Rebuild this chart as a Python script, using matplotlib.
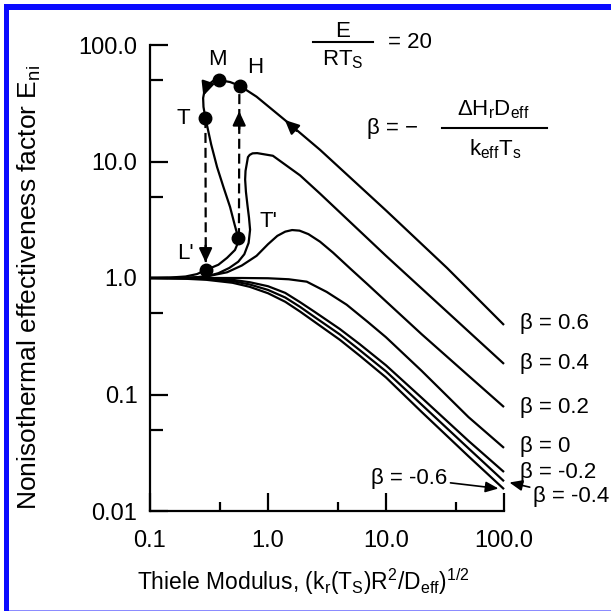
import matplotlib
matplotlib.use('Agg')
import matplotlib.pyplot as plt
from matplotlib.patches import Rectangle
from matplotlib.lines import Line2D
from matplotlib.ticker import FixedLocator, NullFormatter

plt.rcParams['font.family'] = ['Liberation Sans', 'DejaVu Sans']
plt.rcParams['mathtext.fontset'] = 'custom'
plt.rcParams['mathtext.rm'] = 'Liberation Sans'
plt.rcParams['mathtext.it'] = 'Liberation Sans'
plt.rcParams['mathtext.bf'] = 'Liberation Sans:bold'
plt.rcParams['mathtext.sf'] = 'Liberation Sans'

# ---------------- data ----------------
phi_b06 = [0.10, 0.15, 0.20, 0.25, 0.297, 0.38, 0.45, 0.525, 0.55, 0.56, 0.52, 0.477, 0.42,
           0.37, 0.33, 0.295, 0.284, 0.282, 0.29, 0.31, 0.342, 0.385, 0.477, 0.58, 0.80,
           1.39, 2.76, 10.0, 32.9, 100.0]
eta_b06 = [1.00, 1.01, 1.03, 1.08, 1.17, 1.30, 1.49, 1.74, 1.95, 2.20, 2.90, 4.07, 6.00,
           8.97, 14.0, 23.6, 29.4, 35.0, 41.0, 45.4, 49.1, 50.0, 48.1, 44.5, 36.0,
           22.7, 12.6, 3.80, 1.22, 0.395]

phi_b04 = [0.10, 0.20, 0.30, 0.38, 0.47, 0.56, 0.63, 0.685, 0.705, 0.69, 0.67, 0.65, 0.64,
           0.645, 0.676, 0.70, 0.74, 0.81, 1.10, 1.87, 2.76, 10.0, 100.0]
eta_b04 = [1.00, 1.00, 1.03, 1.10, 1.22, 1.38, 1.60, 2.00, 2.60, 3.30, 4.20, 5.50, 7.00,
           8.30, 10.9, 11.4, 11.75, 11.8, 11.2, 7.60, 5.30, 1.55, 0.183]

phi_b02 = [0.10, 0.20, 0.30, 0.45, 0.60, 0.80, 1.00, 1.20, 1.40, 1.60, 1.85, 2.20, 2.76,
           3.56, 5.00, 7.00, 10.0, 20.0, 50.0, 100.0]
eta_b02 = [1.00, 1.00, 1.03, 1.12, 1.28, 1.55, 1.95, 2.30, 2.50, 2.58, 2.55, 2.38, 2.05,
           1.65, 1.20, 0.88, 0.63, 0.33, 0.145, 0.078]

phi_b00 = [0.10, 0.30, 0.60, 1.00, 1.50, 2.13, 3.14, 4.64, 7.00, 10.0, 20.0, 50.0, 100.0]
eta_b00 = [1.00, 1.00, 1.00, 0.995, 0.975, 0.93, 0.76, 0.59, 0.42, 0.31, 0.16, 0.064, 0.0348]

phi_neg = [0.10, 0.20, 0.30, 0.50, 0.70, 1.00, 1.40, 1.87, 2.50, 4.06, 6.00, 10.0, 20.0, 50.0, 100.0]
eta_bm02 = [1.00, 1.00, 0.995, 0.965, 0.92, 0.85, 0.745, 0.62, 0.51, 0.365, 0.27, 0.178, 0.094, 0.040, 0.0216]
eta_bm04 = [1.00, 0.993, 0.98, 0.94, 0.88, 0.79, 0.68, 0.565, 0.46, 0.328, 0.24, 0.158, 0.082, 0.0345, 0.0180]
eta_bm06 = [1.00, 0.985, 0.965, 0.91, 0.84, 0.74, 0.625, 0.515, 0.418, 0.295, 0.215, 0.140, 0.071, 0.0295, 0.0154]

key_labels = ['M', 'H', 'T', "T'", "L'"]
key_phi = [0.385, 0.58, 0.295, 0.56, 0.297]
key_eta = [50.0, 44.5, 23.6, 2.2, 1.17]

jump_down_phi = [0.295, 0.297]
jump_down_eta = [23.6, 1.17]
jump_up_phi = [0.567, 0.572]
jump_up_eta = [2.2, 44.5]

beta_labels = ['β = 0.6', 'β = 0.4', 'β = 0.2', 'β = 0', 'β = -0.2', 'β = -0.4', 'β = -0.6']

y_ticks = [100.0, 10.0, 1.0, 0.1, 0.01]
y_ticklabels = ['100.0', '10.0', '1.0', '0.1', '0.01']
y_minor = [50.0, 5.0, 0.5, 0.05]
x_ticks = [0.1, 1.0, 10.0, 100.0]
x_ticklabels = ['0.1', '1.0', '10.0', '100.0']
x_minor = [0.39, 3.9, 39.0]

# ---------------- figure ----------------
W, H = 611, 613
fig = plt.figure(figsize=(W / 100, H / 100), dpi=100)
fig.patch.set_facecolor('white')

ax = fig.add_axes([150 / W, 1 - 511 / H, (504 - 150) / W, (511 - 45) / H])
ax.set_xscale('log')
ax.set_yscale('log')
ax.set_xlim(0.1, 100)
ax.set_ylim(0.01, 100)
for s in ['top', 'right']:
    ax.spines[s].set_visible(False)
for s in ['left', 'bottom']:
    ax.spines[s].set_linewidth(1.6)

ax.set_xticks(x_ticks)
ax.set_xticklabels(x_ticklabels)
ax.set_yticks(y_ticks)
ax.set_yticklabels(y_ticklabels)
ax.xaxis.set_minor_locator(FixedLocator(x_minor))
ax.yaxis.set_minor_locator(FixedLocator(y_minor))
ax.xaxis.set_minor_formatter(NullFormatter())
ax.yaxis.set_minor_formatter(NullFormatter())
ax.tick_params(which='major', direction='in', length=13, width=1.6, labelsize=17)
ax.xaxis.set_tick_params(which='major', pad=14)
ax.yaxis.set_tick_params(which='major', pad=9)
ax.xaxis.set_tick_params(which='minor', direction='in', length=6.5, width=1.6)
ax.yaxis.set_tick_params(which='minor', direction='in', length=9.5, width=1.6)

lw = 1.6
kw = dict(color='black', lw=lw, solid_joinstyle='round', solid_capstyle='butt', clip_on=False)
ax.plot(phi_b06, eta_b06, **kw)
ax.plot(phi_b04, eta_b04, **kw)
ax.plot(phi_b02, eta_b02, **kw)
ax.plot(phi_b00, eta_b00, **kw)
ax.plot(phi_neg, eta_bm02, **kw)
ax.plot(phi_neg, eta_bm04, **kw)
ax.plot(phi_neg, eta_bm06, **kw)

# dashed jumps
ax.plot(jump_down_phi, jump_down_eta, color='black', lw=lw, dashes=(4.5, 2.2))
ax.plot(jump_up_phi, jump_up_eta, color='black', lw=lw, dashes=(4.5, 2.2))

# key points
ax.plot(key_phi, key_eta, 'o', color='black', ms=9, zorder=5)
label_offsets = [(-1, 15), (11, 13), (-16, 0), (22, 12), (-15, 12)]
for lab, p, e, off in zip(key_labels, key_phi, key_eta, label_offsets):
    ax.annotate(lab, xy=(p, e), xytext=off, textcoords='offset points',
                ha='center', va='center', fontsize=16)

# arrowheads
ah = dict(arrowstyle='-|>,head_length=0.6,head_width=0.28', color='black', lw=lw,
          mutation_scale=14, shrinkA=0, shrinkB=0)
ax.annotate('', xy=(1.39, 22.7), xytext=(1.75, 18.3), arrowprops=ah)
ax.annotate('', xy=(0.283, 36.5), xytext=(0.30, 43.5), arrowprops=ah)
ax.annotate('', xy=(0.296, 1.36), xytext=(0.296, 1.9), arrowprops=ah)
ax.annotate('', xy=(0.57, 27.0), xytext=(0.57, 19.0), arrowprops=ah)

# beta labels at curve ends
ends = [eta_b06[-1], eta_b04[-1], eta_b02[-1], eta_b00[-1], eta_bm02[-1]]
dys = [1, 0, 0, 1, 0]
for lab, e, dy in zip(beta_labels[:5], ends, dys):
    ax.annotate(lab, xy=(100, e), xytext=(11.5, dy), textcoords='offset points',
                ha='left', va='center', fontsize=16)

arr = dict(arrowstyle='-|>,head_length=0.6,head_width=0.25', color='black', lw=1.2,
           mutation_scale=13, shrinkA=0, shrinkB=4)
ax.annotate(beta_labels[5], xy=(100, eta_bm04[-1]), xytext=(48, -11),
            textcoords='offset points', ha='center', va='center', fontsize=16,
            arrowprops=arr)
ax.annotate(beta_labels[6], xy=(100, eta_bm06[-1]), xytext=(-68, 8),
            textcoords='offset points', ha='center', va='center', fontsize=16,
            arrowprops=arr)

# axis labels
def ftext(x, y, s, **k):
    return fig.text(x / W, 1 - y / H, s, **k)

ftext(29, 288, r'Nonisothermal effectiveness factor E$_{\rm ni}$', rotation=90,
      ha='center', va='center', fontsize=19)
ftext(303, 582, r'Thiele Modulus, (k$_{\rm r}$(T$_{\rm S}$)R$^{2}$/D$_{\rm eff}$)$^{1/2}$',
      ha='center', va='center', fontsize=16.5)

# equations in upper right
ftext(343, 37, 'E', ha='center', va='baseline', fontsize=16)
fig.add_artist(Line2D([313 / W, 373 / W], [1 - 42 / H, 1 - 42 / H], color='black', lw=1.5))
ftext(343, 65, r'RT$_{\rm S}$', ha='center', va='baseline', fontsize=16)
ftext(388, 48, '= 20', ha='left', va='baseline', fontsize=16)

ftext(367, 134, 'β = \u2212', ha='left', va='baseline', fontsize=16)
ftext(493, 115, r'ΔH$_{\rm r}$D$_{\rm eff}$', ha='center', va='baseline', fontsize=16)
fig.add_artist(Line2D([442 / W, 547 / W], [1 - 128 / H, 1 - 128 / H], color='black', lw=1.5))
ftext(495, 155, r'k$_{\rm eff}$T$_{\rm s}$', ha='center', va='baseline', fontsize=16)

# blue frame of the picture
fig.add_artist(Rectangle((4 / W, 1 - 611 / H), 5 / W, 607 / H, transform=fig.transFigure,
                         facecolor='#0a0aff', edgecolor='none'))
fig.add_artist(Rectangle((4 / W, 1 - 10 / H), 607 / W, 6 / H, transform=fig.transFigure,
                         facecolor='#0a0aff', edgecolor='none'))
fig.add_artist(Rectangle((9 / W, 1 - 611 / H), 602 / W, 1.5 / H, transform=fig.transFigure,
                         facecolor='#8c8cff', edgecolor='none'))

fig.savefig('out.png', dpi=100)
